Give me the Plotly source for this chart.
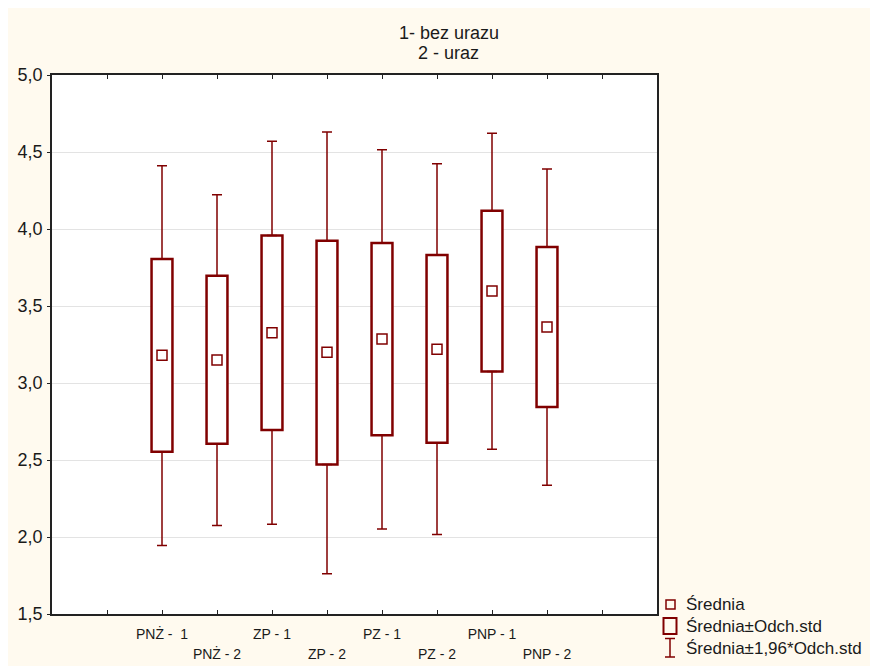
import plotly.graph_objects as go

# ---- data ----
categories_row1 = ["PNŻ -  1", "ZP - 1", "PZ - 1", "PNP - 1"]
categories_row2 = ["PNŻ - 2", "ZP - 2", "PZ - 2", "PNP - 2"]
labels = ["PNŻ -  1", "PNŻ - 2", "ZP - 1", "ZP - 2", "PZ - 1", "PZ - 2", "PNP - 1", "PNP - 2"]
positions = [0, 1, 2, 3, 4, 5, 6, 7]

mean_vals   = [3.180, 3.149, 3.327, 3.199, 3.286, 3.219, 3.597, 3.364]
box_low     = [2.554, 2.606, 2.695, 2.470, 2.660, 2.612, 3.074, 2.844]
box_high    = [3.805, 3.697, 3.957, 3.924, 3.909, 3.831, 4.119, 3.883]
whisk_low   = [1.944, 2.074, 2.082, 1.762, 2.052, 2.017, 2.569, 2.336]
whisk_high  = [4.411, 4.223, 4.569, 4.630, 4.515, 4.424, 4.621, 4.390]

y_ticks = [1.5, 2.0, 2.5, 3.0, 3.5, 4.0, 4.5, 5.0]
x_tick_positions = list(range(-2, 10))

title_lines = ["1- bez urazu", "2 - uraz"]
legend_labels = ["Średnia", "Średnia±Odch.std", "Średnia±1,96*Odch.std"]

# ---- style ----
RED = "#800000"
BG = "#FFFAEF"
FONT = "Arial, Liberation Sans, sans-serif"
TXT = "#1a1a1a"

fig = go.Figure()

# boxes (mean ± sd)
fig.add_trace(go.Bar(
    x=positions,
    base=box_low,
    y=[h - l for h, l in zip(box_high, box_low)],
    width=0.38,
    marker=dict(color="white", line=dict(color=RED, width=2.5)),
    hoverinfo="skip",
    showlegend=False,
))

# upper whiskers
fig.add_trace(go.Scatter(
    x=positions, y=box_high, mode="markers",
    marker=dict(size=1, color="rgba(0,0,0,0)"),
    error_y=dict(type="data", symmetric=False,
                 array=[w - b for w, b in zip(whisk_high, box_high)],
                 arrayminus=[0] * len(positions),
                 color=RED, thickness=1.5, width=5),
    hoverinfo="skip", showlegend=False,
))
# lower whiskers
fig.add_trace(go.Scatter(
    x=positions, y=box_low, mode="markers",
    marker=dict(size=1, color="rgba(0,0,0,0)"),
    error_y=dict(type="data", symmetric=False,
                 array=[0] * len(positions),
                 arrayminus=[b - w for b, w in zip(box_low, whisk_low)],
                 color=RED, thickness=1.5, width=5),
    hoverinfo="skip", showlegend=False,
))
# means
fig.add_trace(go.Scatter(
    x=positions, y=mean_vals, mode="markers",
    marker=dict(symbol="square-open", size=10, color=RED, line=dict(width=1.5, color=RED)),
    showlegend=False, name=legend_labels[0],
))
# dummy trace for the second label row axis
fig.add_trace(go.Scatter(x=[None], y=[None], xaxis="x2", mode="markers",
                         showlegend=False, hoverinfo="skip"))

# tick text for first row
row1_text = []
for p in x_tick_positions:
    if p in positions and p % 2 == 0:
        row1_text.append(labels[p])
    else:
        row1_text.append("")

# page offset of the figure (browser body margin); visible width is the body width
OFF = 8
W, H = 878 - 2 * OFF, 666 - OFF
L = 52 - OFF
T = 75 - OFF
R = W - (657 - OFF)
B = H - (614 - OFF)
pw, ph = W - L - R, H - T - B

def px(x):
    return (x - OFF - L) / pw

def py(y):
    return (H - B - (y - OFF)) / ph

fig.update_layout(
    width=W, height=H,
    margin=dict(l=L, r=R, t=T, b=B, autoexpand=False),
    paper_bgcolor=BG, plot_bgcolor="white",
    separators=", ",
    font=dict(family=FONT, color=TXT, size=14),
    barmode="overlay",
    showlegend=False,
    xaxis=dict(
        range=[-2, 9], tickmode="array", tickvals=x_tick_positions, ticktext=row1_text,
        ticks="inside", ticklen=4, tickwidth=1, tickcolor="#222",
        showline=True, linecolor="#222", linewidth=1.5, mirror="ticks",
        showgrid=False, zeroline=False, ticklabelstandoff=6,
        tickfont=dict(size=14, color=TXT, family=FONT),
    ),
    xaxis2=dict(
        range=[-2, 9], overlaying="x", anchor="y", side="bottom",
        tickmode="array", tickvals=[1, 3, 5, 7], ticktext=categories_row2,
        ticks="", showline=False, showgrid=False, zeroline=False,
        ticklabelstandoff=30,
        tickfont=dict(size=14, color=TXT, family=FONT),
    ),
    yaxis=dict(
        range=[1.5, 5.0], tickmode="array", tickvals=y_ticks, tickformat=".1f",
        ticks="outside", ticklen=3, tickcolor="#222",
        showline=True, linecolor="#222", linewidth=1.5, mirror=True,
        showgrid=True, gridcolor="#e3e3e3", gridwidth=1, zeroline=False,
        ticklabelstandoff=1,
        tickfont=dict(size=18, color=TXT, family=FONT),
    ),
)

# title
fig.add_annotation(x=px(449), y=py(33), xref="paper", yref="paper", text=title_lines[0],
                   showarrow=False, font=dict(size=18, color=TXT, family=FONT),
                   xanchor="center", yanchor="middle")
fig.add_annotation(x=px(449), y=py(53), xref="paper", yref="paper", text=title_lines[1],
                   showarrow=False, font=dict(size=18, color=TXT, family=FONT),
                   xanchor="center", yanchor="middle")

# manual legend
legend_y = [604, 626, 648]
fig.add_shape(type="rect", xref="paper", yref="paper", x0=px(666), x1=px(675),
              y0=py(609), y1=py(600), line=dict(color=RED, width=1.5))
fig.add_shape(type="rect", xref="paper", yref="paper", x0=px(663.5), x1=px(676.5),
              y0=py(634), y1=py(618), line=dict(color=RED, width=2))
fig.add_shape(type="line", xref="paper", yref="paper", x0=px(670), x1=px(670),
              y0=py(657), y1=py(638.5), line=dict(color=RED, width=1.5))
fig.add_shape(type="line", xref="paper", yref="paper", x0=px(665), x1=px(675),
              y0=py(638.5), y1=py(638.5), line=dict(color=RED, width=1.5))
fig.add_shape(type="line", xref="paper", yref="paper", x0=px(665), x1=px(675),
              y0=py(657), y1=py(657), line=dict(color=RED, width=1.5))
for lbl, yy in zip(legend_labels, legend_y):
    fig.add_annotation(x=px(684), y=py(yy), xref="paper", yref="paper", text=lbl,
                       showarrow=False, xanchor="left", yanchor="middle",
                       font=dict(size=17, color=TXT, family=FONT))

fig.write_html("out.html")
